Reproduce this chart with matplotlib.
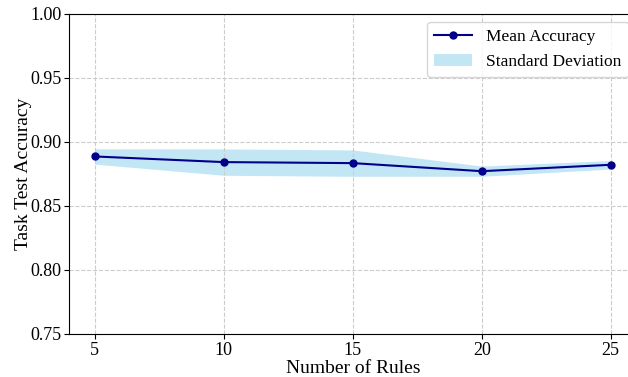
import matplotlib.pyplot as plt
import numpy as np

plt.rcParams['font.family'] = ['Liberation Serif', 'DejaVu Serif']

num_rules = np.array([5, 10, 15, 20, 25])
mean_acc = np.array([0.8887, 0.8843, 0.8835, 0.8772, 0.8822])
std_acc = np.array([0.0060, 0.0103, 0.0103, 0.0040, 0.0033])

fig = plt.figure(figsize=(6.28, 3.77), dpi=100)
ax = fig.add_axes([69/628, 43/377, 567.5/628, 320/377])

ax.plot(num_rules, mean_acc, marker='o', color='darkblue', markersize=5, linewidth=1.5, label='Mean Accuracy')
ax.fill_between(num_rules, mean_acc - std_acc, mean_acc + std_acc, color='skyblue', alpha=0.5, linewidth=0, label='Standard Deviation')

ax.set_xlim(4, 26)
ax.set_ylim(0.75, 1.00)
ax.set_xticks(num_rules)
ax.set_yticks([0.75, 0.80, 0.85, 0.90, 0.95, 1.00])
ax.set_xlabel('Number of Rules', fontsize=14, labelpad=1)
ax.set_ylabel('Task Test Accuracy', fontsize=14, labelpad=-1.5)
ax.tick_params(labelsize=13, pad=2)
ax.grid(True, linestyle='--', color='#cccccc', linewidth=0.8)
ax.legend(loc='upper right', fontsize=12.5, borderaxespad=0.45, handlelength=2.2)

fig.savefig('out.png', dpi=100)
